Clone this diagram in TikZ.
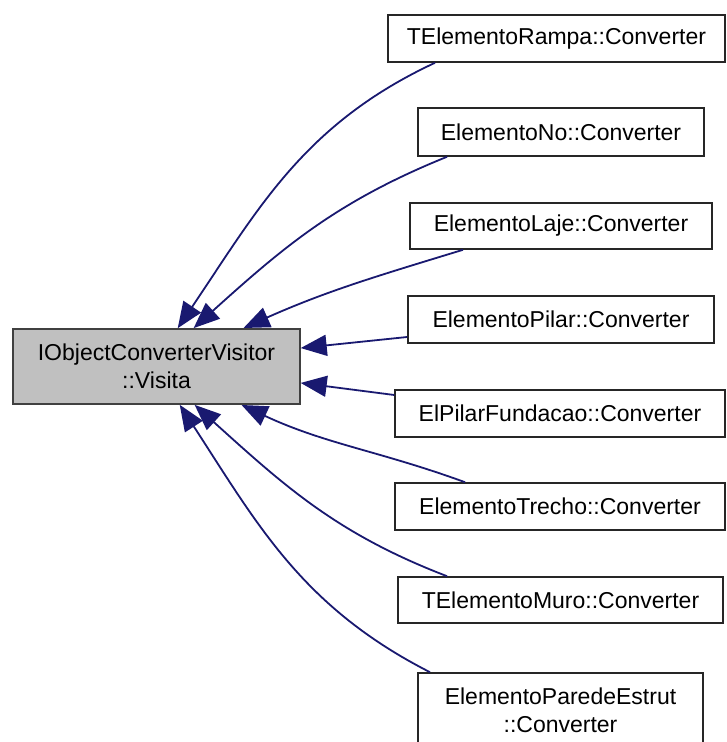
\documentclass[tikz,border=0pt]{standalone}
\usepackage{fontspec}
\setmainfont{Liberation Sans}
\usetikzlibrary{arrows.meta}
\definecolor{callblue}{HTML}{191970}
\definecolor{boxgray}{HTML}{C0C0C0}
\tikzset{
  convbox/.style={draw=black!85,line width=1.6pt,fill=white,rectangle,inner sep=0pt,align=center,font=\fontsize{23}{28}\selectfont},
  visitbox/.style={convbox,fill=boxgray,draw=black!75,line width=2.4pt},
  callarrow/.style={draw=callblue,line width=1.8pt,-{Triangle[length=26pt,width=21pt]},shorten >=-0.5pt}
}
\newcommand{\conv}[6]{\node[convbox,minimum width=#4pt,minimum height=#5pt] (#1) at (#2,#3) {#6};}
\newcommand{\call}[4]{\draw[callarrow] (#1) to[out=#3,in=#4] (#2);}

\begin{document}
\begin{tikzpicture}[x=1pt,y=1pt]
    \useasboundingbox (0,0) rectangle (726,742);
    \clip (0,0) rectangle (726,742);
    \node[visitbox,minimum width=287pt,minimum height=75pt] (visita) at (156.5,375.5) {IObjectConverterVisitor\\::Visita};
    \conv{rampa}{556.5}{703.5}{337}{47}{TElementoRampa::Converter}
    \conv{no}{561}{610}{286}{48}{ElementoNo::Converter}
    \conv{laje}{561}{516}{302}{46}{ElementoLaje::Converter}
    \conv{pilar}{561}{422.5}{306}{47}{ElementoPilar::Converter}
    \conv{fund}{560}{328.5}{330}{47}{ElPilarFundacao::Converter}
    \conv{trecho}{560}{235.5}{330}{47}{ElementoTrecho::Converter}
    \conv{muro}{560.5}{142}{325}{46}{TElementoMuro::Converter}
    \conv{parede}{560.5}{32}{285}{74}{ElementoParedeEstrut\\::Converter}
    % chamadas
    \call{[xshift=-121.5pt]rampa.south}{[xshift=21.5pt]visita.north}{205}{56}
    \call{[xshift=-114pt]no.south}{[xshift=37.5pt]visita.north}{202}{42}
    \call{[xshift=-98pt]laje.south}{[xshift=87.5pt]visita.north}{197}{24}
    \draw[callarrow] ([yshift=-17.5pt]pilar.west) -- ([yshift=18.5pt]visita.east);
    \draw[callarrow] ([yshift=18.5pt]fund.west) -- ([yshift=-16.5pt]visita.east);
    \call{[xshift=-95pt]trecho.north}{[xshift=85.5pt]visita.south}{160}{-25}
    \call{[xshift=-113.5pt]muro.north}{[xshift=38.5pt]visita.south}{159}{-42}
    \call{[xshift=-130.5pt]parede.north}{[xshift=23.5pt]visita.south}{153}{-57}
\end{tikzpicture}
\end{document}
